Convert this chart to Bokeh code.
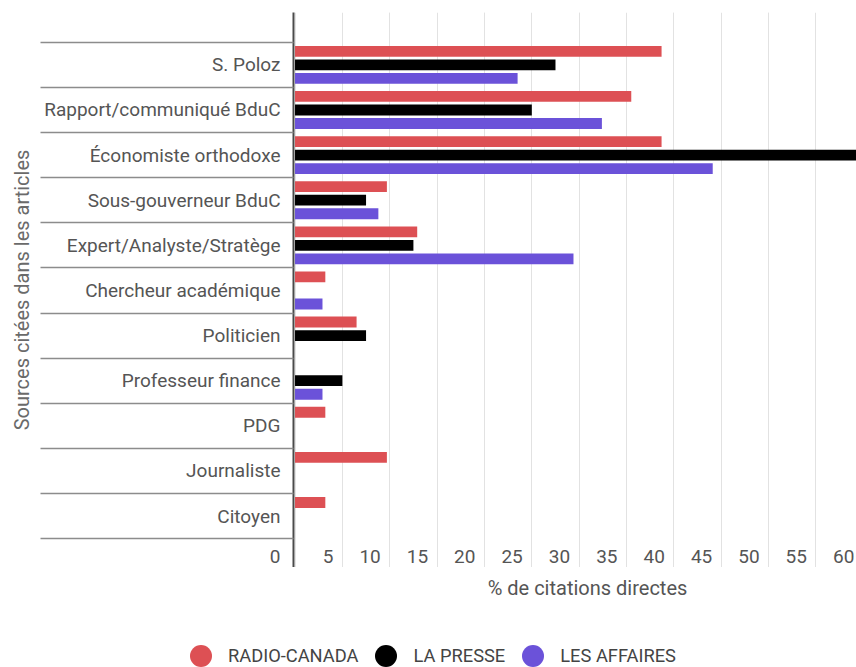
import numpy as np
from bokeh.plotting import figure
from bokeh.layouts import column
from bokeh.core.properties import value
from bokeh.models import (Range1d, FixedTicker, Grid, LabelSet, ColumnDataSource,
                          Legend, LegendItem, Label)
from bokeh.embed import file_html
from bokeh.resources import INLINE

# Sources quoted, in display order (top to bottom)
categories = [
    "S. Poloz",
    "Rapport/communiqué BduC",
    "Économiste orthodoxe",
    "Sous-gouverneur BduC",
    "Expert/Analyste/Stratège",
    "Chercheur académique",
    "Politicien",
    "Professeur finance",
    "PDG",
    "Journaliste",
    "Citoyen",
]

# % of direct quotations per outlet
radio_canada = [38.7, 35.5, 38.7, 9.7, 12.9, 3.2, 6.5, 0.0, 3.2, 9.7, 3.2]
la_presse = [27.5, 25.0, 62.5, 7.5, 12.5, 0.0, 7.5, 5.0, 0.0, 0.0, 0.0]
les_affaires = [23.5, 32.4, 44.1, 8.8, 29.4, 2.9, 0.0, 2.9, 0.0, 0.0, 0.0]

series_names = ["RADIO-CANADA", "LA PRESSE", "LES AFFAIRES"]
series_colors = ["#dd5054", "#000000", "#6b52d9"]

x_ticks = [0, 5, 10, 15, 20, 25, 30, 35, 40, 45, 50, 55, 60]
x_tick_labels = [str(t) for t in x_ticks]

x_title = "% de citations directes"
y_title = "Sources citées dans les articles"

FONT = "Roboto"
LABEL_COLOR = "#555555"
n = len(categories)

# ---------------------------------------------------------------- main chart
y_bottom = 11.14          # a strip below the last band holds the x tick labels
y_top = -1.16
label_row = 10.89

p = figure(
    width=856, height=567,
    output_backend="svg", toolbar_location=None,
    x_range=Range1d(-0.16, 59.28), y_range=Range1d(y_bottom, y_top),
    x_axis_location=None,
    min_border_left=293, min_border_right=0,
    min_border_top=12, min_border_bottom=0,
    outline_line_color=None,
    background_fill_color="white", border_fill_color="white",
)
p.frame_align = False

# vertical grid lines
p.add_layout(Grid(dimension=0, ticker=FixedTicker(ticks=x_ticks[1:]),
                  grid_line_color="#e2e2e2", grid_line_width=1))
p.ygrid.grid_line_color = None

# category axis: names at band centres, long separators at band edges
yaxis = p.yaxis[0]
yaxis.ticker = FixedTicker(ticks=list(range(n)) + [label_row],
                           minor_ticks=[i - 0.5 for i in range(n + 1)])
overrides = {i: c for i, c in enumerate(categories)}
overrides[label_row] = x_tick_labels[0]
yaxis.major_label_overrides = overrides
yaxis.major_tick_out = 0
yaxis.major_tick_in = 0
yaxis.minor_tick_in = 0
yaxis.minor_tick_out = 253
yaxis.minor_tick_line_color = "#8c8c8c"
yaxis.minor_tick_line_width = 1.5
yaxis.axis_line_color = "#4a4a4a"
yaxis.axis_line_width = 2
yaxis.major_label_standoff = -240
yaxis.major_label_text_font = FONT
yaxis.major_label_text_font_size = "19px"
yaxis.major_label_text_color = LABEL_COLOR
yaxis.axis_label = y_title
yaxis.axis_label_text_font = FONT
yaxis.axis_label_text_font_size = "20px"
yaxis.axis_label_text_font_style = "normal"
yaxis.axis_label_text_color = "#6a6a6a"
yaxis.axis_label_standoff = 7

# grouped horizontal bars
offsets = [-0.30, 0.0, 0.30]
base = np.arange(n)
for vals, color, off in zip([radio_canada, la_presse, les_affaires],
                            series_colors, offsets):
    src = ColumnDataSource(dict(y=base + off, right=vals))
    p.hbar(y="y", left=0, right="right", height=0.24, source=src,
           fill_color=color, line_color=None)

# x tick labels sit in the bottom strip, just left of each grid line
tick_src = ColumnDataSource(dict(x=x_ticks[1:], y=[label_row] * (len(x_ticks) - 1),
                                 text=x_tick_labels[1:]))
p.add_layout(LabelSet(x="x", y="y", text="text", source=tick_src,
                      x_offset=-9, text_align="right", text_baseline="middle",
                      text_font=value(FONT), text_font_size="19px",
                      text_color=LABEL_COLOR))

# ---------------------------------------------------- x title and legend strip
# this strip's data coordinates are its own pixels (x right, y down)
foot = figure(
    width=856, height=100,
    output_backend="svg", toolbar_location=None,
    x_range=Range1d(0, 856), y_range=Range1d(100, 0),
    x_axis_location=None, y_axis_location=None,
    min_border_left=0, min_border_right=0, min_border_top=0, min_border_bottom=0,
    outline_line_color=None,
    background_fill_color="white", border_fill_color="white",
)
foot.frame_align = False
foot.xgrid.visible = False
foot.ygrid.visible = False

foot.add_layout(Label(x=587, y=20, text=x_title,
                      text_align="center", text_baseline="middle",
                      text_font=FONT, text_font_size="20px", text_color=LABEL_COLOR))

legend_items = []
for name, color in zip(series_names, series_colors):
    dot = foot.scatter(x=[np.nan], y=[np.nan], marker="circle", size=22,
                       fill_color=color, line_color=None)
    legend_items.append(LegendItem(label=name, renderers=[dot]))

legend = Legend(items=legend_items, orientation="horizontal",
                location=(173, -16),
                glyph_width=55, glyph_height=55, label_height=55,
                label_standoff=0, spacing=0, padding=0, margin=0,
                border_line_color=None, background_fill_alpha=0,
                label_text_font=FONT, label_text_font_size="18.3px",
                label_text_color="#444444")
foot.add_layout(legend)

layout = column(p, foot, spacing=0)
open("out.html", "w").write(file_html(layout, INLINE))
